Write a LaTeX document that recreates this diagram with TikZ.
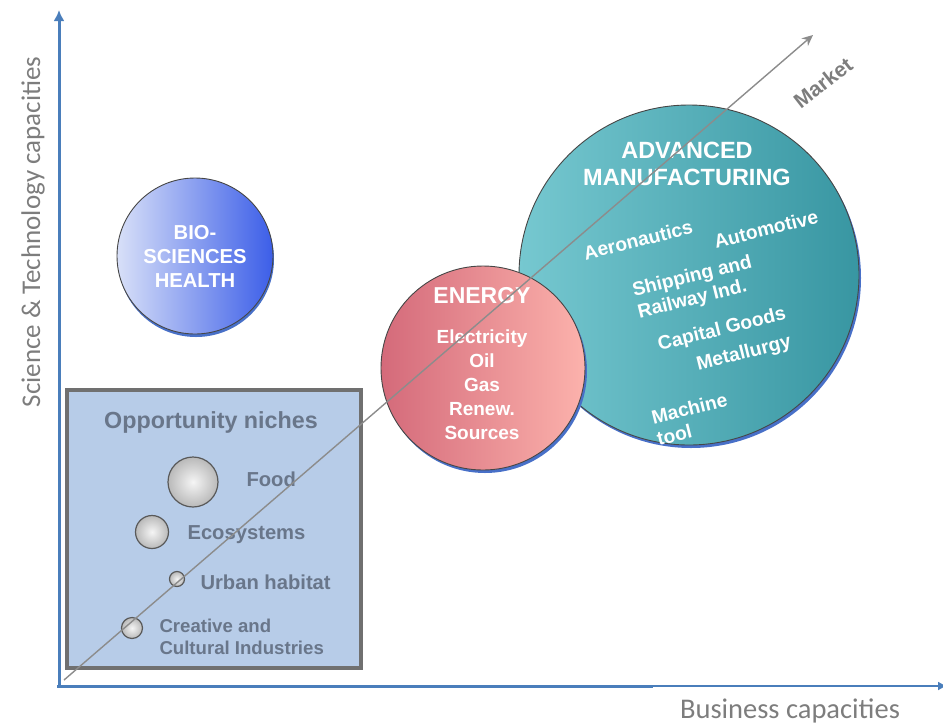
\documentclass[tikz,border=0pt]{standalone}
\usepackage{fontspec}
\setmainfont{Liberation Sans}
\newfontfamily\calibfont{Carlito}
\usetikzlibrary{arrows.meta}
\definecolor{axisblue}{RGB}{74,126,187}
\definecolor{boxfill}{RGB}{183,204,232}
\definecolor{boxedge}{RGB}{112,112,112}
\definecolor{nichetext}{RGB}{105,118,138}
\definecolor{labelgray}{RGB}{125,125,125}
\definecolor{marketgray}{RGB}{140,140,140}
\definecolor{tealL}{RGB}{118,200,208}
\definecolor{tealR}{RGB}{56,150,162}
\definecolor{pinkL}{RGB}{212,106,122}
\definecolor{pinkR}{RGB}{252,178,172}
\definecolor{bioL}{RGB}{216,224,248}
\definecolor{bioR}{RGB}{60,94,232}
\definecolor{shadowblue}{RGB}{72,112,200}
\definecolor{rimgray}{RGB}{70,70,70}
\definecolor{spherein}{RGB}{245,245,245}
\definecolor{sphereout}{RGB}{185,185,185}
\begin{document}
\begin{tikzpicture}[x=1pt,y=-1pt,
  bubble/.style={circle, inner sep=0pt, draw=rimgray, line width=0.9pt},
  bubshadow/.style={circle, inner sep=0pt, fill=shadowblue, draw=none},
  sphere/.style={circle, inner sep=0pt, draw=rimgray!90, line width=1.2pt, inner color=spherein, outer color=sphereout},
  wtitle/.style={text=white, font=\bfseries\fontsize{23.5}{27}\selectfont, align=center},
  witem/.style={text=white, font=\bfseries\fontsize{19}{24}\selectfont, align=center},
  witeml/.style={text=white, font=\bfseries\fontsize{19.3}{22}\selectfont, align=left, rotate=14},
  nichelab/.style={text=nichetext, font=\bfseries\fontsize{20.2}{21.5}\selectfont, align=left, anchor=west},
  axislab/.style={text=labelgray, font=\calibfont\fontsize{27}{30}\selectfont},
  axisline/.style={draw=axisblue, line width=3pt},
  marketline/.style={draw=marketgray, line width=1.4pt, -{Stealth[length=11pt,width=10pt]}}
]
\useasboundingbox (0,0) rectangle (943,724);

% opportunity niches box
\node[draw=boxedge, line width=4pt, fill=boxfill, minimum width=294pt, minimum height=278pt, inner sep=0pt] (niches) at (214,529) {};
\node[text=nichetext, font=\bfseries\fontsize{23.3}{25}\selectfont] (nichetitle) at (211,422) {Opportunity niches};
\node[sphere, minimum size=50pt] (food) at (193,482) {};
\node[sphere, minimum size=33pt] (eco) at (152,532) {};
\node[sphere, minimum size=15pt] (urban) at (177,579) {};
\node[sphere, minimum size=21pt] (creative) at (132,628) {};
\node[nichelab] (foodlab) at (243,479) {Food};
\node[nichelab] (ecolab) at (184,535) {Ecosystems};
\node[nichelab] (urbanlab) at (197,582) {Urban habitat};
\node[nichelab, font=\bfseries\fontsize{18.6}{21.5}\selectfont] (creativelab) at (156,637) {Creative and\\Cultural Industries};

% bio-sciences
\node[bubshadow, minimum size=156pt] (bioshadow) at (196,259) {};
\node[bubble, minimum size=156pt, left color=bioL, right color=bioR] (bio) at (195,256) {};
\node[witem, font=\bfseries\fontsize{20.2}{24}\selectfont] (biotext) at (195,256) {BIO-\\SCIENCES\\HEALTH};

% advanced manufacturing
\node[bubshadow, minimum size=340pt] (advshadow) at (691,278) {};
\node[bubble, minimum size=340pt, left color=tealL, right color=tealR] (adv) at (689,275) {};
\node[wtitle] (advtitle) at (687,164) {ADVANCED\\MANUFACTURING};
\node[witeml] (aero) at (638,240) {Aeronautics};
\node[witeml] (auto) at (766,229) {Automotive};
\node[witeml] (ship) at (695,288) {Shipping and\\Railway Ind.};
\node[witeml] (capital) at (722,330) {Capital Goods};
\node[witeml] (metal) at (744,354) {Metallurgy};
\node[witeml] (machine) at (692,419) {Machine\\tool};

% energy
\node[bubshadow, minimum size=204pt] (enshadow) at (485,371) {};
\node[bubble, minimum size=204pt, left color=pinkL, right color=pinkR] (energy) at (483,368) {};
\node[wtitle, font=\bfseries\fontsize{23}{27}\selectfont] (entitle) at (482,296) {ENERGY};
\node[witem] (entext) at (482,385) {Electricity\\Oil\\Gas\\Renew.\\Sources};

% market arrow
\coordinate (mstart) at (64,680);
\coordinate (mend) at (813,35);
\draw[marketline] (mstart) -- (mend);
\node[text=labelgray, font=\bfseries\fontsize{21}{22}\selectfont, rotate=38, inner sep=0pt] (market) at (823,83) {Market};

% axes
\coordinate (origin) at (59,688);
\coordinate (ytop) at (59,10);
\coordinate (xmid) at (653,686);
\coordinate (xstart) at (57,686);
\coordinate (xend) at (947,686);
\draw[axisline, -{Latex[length=11pt,width=11pt]}] (origin) -- (ytop);
\draw[axisline] (xstart) -- (xmid);
\draw[draw=axisblue, line width=1.5pt, -{Latex[length=9pt,width=9pt]}] (xmid) -- (xend);
\node[axislab, font=\calibfont\fontsize{28.5}{30}\selectfont] (xlab) at (790,711) {Business capacities};
\node[axislab, rotate=90] (ylab) at (33,232) {Science \& Technology capacities};
\end{tikzpicture}
\end{document}
